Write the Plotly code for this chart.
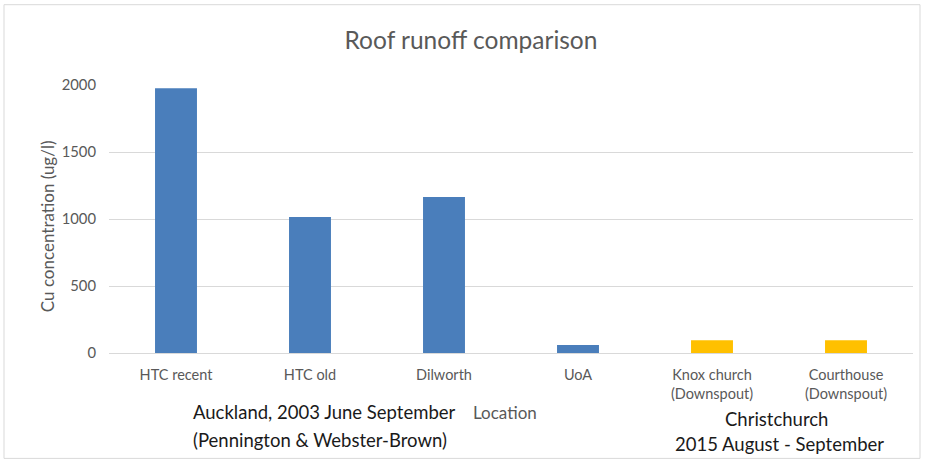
import plotly.graph_objects as go

# Copper concentrations in roof runoff by sampling location
locations = ["HTC recent", "HTC old", "Dilworth", "UoA",
             "Knox church<br>(Downspout)", "Courthouse<br>(Downspout)"]
cu_ugl = [1975, 1015, 1165, 60, 95, 95]
study = ["Auckland", "Auckland", "Auckland", "Auckland", "Christchurch", "Christchurch"]
y_ticks = [0, 500, 1000, 1500, 2000]

study_colors = {"Auckland": "#4A7EBB", "Christchurch": "#FFC000"}
bar_colors = [study_colors[s] for s in study]

FONT = "Lato, 'Open Sans', sans-serif"
GREY = "#595959"

fig = go.Figure(
    go.Bar(
        x=locations,
        y=cu_ugl,
        marker=dict(color=bar_colors, line=dict(width=0)),
        hoverinfo="x+y",
    )
)

fig.update_layout(
    width=925,
    height=463,
    margin=dict(l=109, r=12, t=85, b=110),
    paper_bgcolor="white",
    plot_bgcolor="white",
    bargap=0.687,
    showlegend=False,
    font=dict(family=FONT, color=GREY, size=14.5),
    title=dict(
        text="Roof runoff comparison",
        x=471 / 925, xanchor="center", xref="container",
        y=1 - 40 / 463, yanchor="middle", yref="container",
        font=dict(size=24.5, color=GREY, family=FONT),
    ),
    shapes=[
        dict(type="rect", xref="paper", yref="paper",
             x0=-105 / 804, x1=1 + 7 / 804, y0=-105 / 267, y1=1 + 80 / 267,
             line=dict(color="#D9D9D9", width=1), fillcolor="rgba(0,0,0,0)"),
    ],
)

fig.update_yaxes(
    range=[0, 2000],
    tickvals=y_ticks,
    showgrid=True, gridcolor="#D9D9D9", gridwidth=1,
    zeroline=False, showline=False,
    ticks="", ticklabelstandoff=12,
    tickfont=dict(size=14.8, color=GREY),
)

fig.update_xaxes(
    showline=True, linecolor="#D9D9D9", linewidth=1,
    showgrid=False, ticks="",
    tickfont=dict(size=14.5, color=GREY),
    ticklabelstandoff=9,
)

notes = [
    dict(text="Cu concentration (ug/l)", x=47, y=226, size=17, color=GREY, anchor="center", angle=-90),
    dict(text="Location", x=505, y=412, size=17, color=GREY, anchor="center"),
    dict(text="Auckland, 2003 June September", x=191, y=412, size=18.5, color="#1a1a1a", anchor="left"),
    dict(text="(Pennington & Webster-Brown)", x=191, y=440, size=18.5, color="#1a1a1a", anchor="left"),
    dict(text="Christchurch", x=776, y=419, size=18.5, color="#1a1a1a", anchor="center"),
    dict(text="2015 August - September", x=779, y=444, size=18.5, color="#1a1a1a", anchor="center"),
]
for n in notes:
    fig.add_annotation(
        text=n["text"],
        xref="paper", yref="paper",
        x=(n["x"] - 109) / 804, y=(352.7 - n["y"]) / 267.7,
        xanchor=n["anchor"], yanchor="middle",
        textangle=n.get("angle", 0),
        showarrow=False,
        font=dict(size=n["size"], color=n["color"], family=FONT),
    )

fig.write_html("out.html")
